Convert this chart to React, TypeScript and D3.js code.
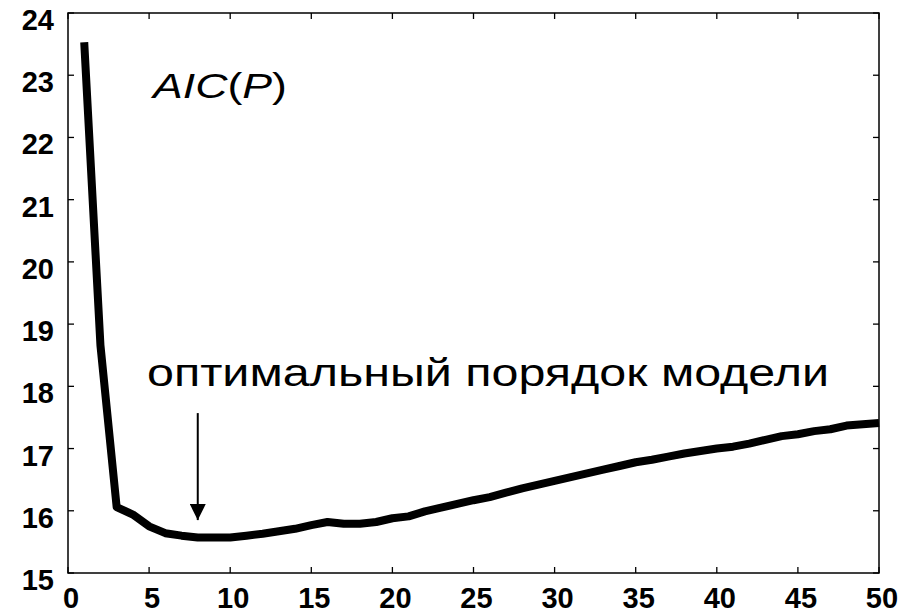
import React, { useEffect, useRef } from 'react';
import * as d3 from 'd3';

// model order P and AIC value
const orders = d3.range(1, 51);
const aicValues = [
  23.53, 18.66, 16.06, 15.94, 15.75, 15.64, 15.6, 15.57, 15.57, 15.57,
  15.6, 15.63, 15.67, 15.71, 15.77, 15.82, 15.79, 15.79, 15.82, 15.88,
  15.91, 15.99, 16.05, 16.11, 16.17, 16.22, 16.29, 16.36, 16.42, 16.48,
  16.54, 16.6, 16.66, 16.72, 16.78, 16.82, 16.87, 16.92, 16.96, 17.0,
  17.03, 17.08, 17.14, 17.2, 17.23, 17.28, 17.31, 17.37, 17.39, 17.41,
];
const xTicks = [0, 5, 10, 15, 20, 25, 30, 35, 40, 45, 50];
const yTicks = [15, 16, 17, 18, 19, 20, 21, 22, 23, 24];
const optimalOrder = 8;
const arrowFrom = 17.57;
const arrowTo = 15.85;

const FONT = '"Liberation Sans", Arial, sans-serif';

const App = () => {
  const svgRef = useRef<SVGSVGElement>(null);

  useEffect(() => {
    const width = 918;
    const height = 614;
    const margin = { top: 13, right: 39, bottom: 41, left: 68 };
    const w = width - margin.left - margin.right;
    const h = height - margin.top - margin.bottom;

    d3.select(svgRef.current).selectAll('*').remove();

    const svg = d3.select(svgRef.current)
      .attr('width', width)
      .attr('height', height);

    const g = svg.append('g')
      .attr('transform', `translate(${margin.left},${margin.top})`);

    const x = d3.scaleLinear().domain([0, 50]).range([0, w]);
    const y = d3.scaleLinear().domain([15, 24]).range([h, 0]);

    // frame
    g.append('rect')
      .attr('width', w)
      .attr('height', h)
      .attr('fill', 'none')
      .attr('stroke', '#000')
      .attr('stroke-width', 1.5);

    // inward ticks on all four sides
    const tickLen = 6;
    const ticks = g.append('g').attr('stroke', '#000').attr('stroke-width', 1.3);
    xTicks.forEach(t => {
      ticks.append('line').attr('x1', x(t)).attr('x2', x(t)).attr('y1', h).attr('y2', h - tickLen);
      ticks.append('line').attr('x1', x(t)).attr('x2', x(t)).attr('y1', 0).attr('y2', tickLen);
    });
    yTicks.forEach(t => {
      ticks.append('line').attr('x1', 0).attr('x2', tickLen).attr('y1', y(t)).attr('y2', y(t));
      ticks.append('line').attr('x1', w).attr('x2', w - tickLen).attr('y1', y(t)).attr('y2', y(t));
    });

    // tick labels
    g.append('g').selectAll('text')
      .data(xTicks)
      .enter()
      .append('text')
      .attr('x', d => x(d) + 3)
      .attr('y', h + 35)
      .attr('text-anchor', 'middle')
      .attr('font-family', FONT)
      .attr('font-weight', 'bold')
      .attr('font-size', 29)
      .text(d => d);

    g.append('g').selectAll('text')
      .data(yTicks)
      .enter()
      .append('text')
      .attr('x', -14)
      .attr('y', d => y(d) + 17)
      .attr('text-anchor', 'end')
      .attr('font-family', FONT)
      .attr('font-weight', 'bold')
      .attr('font-size', 29)
      .text(d => d);

    // AIC curve
    const line = d3.line<number>()
      .x((d, i) => x(orders[i]))
      .y(d => y(d));

    g.append('path')
      .datum(aicValues)
      .attr('d', line)
      .attr('fill', 'none')
      .attr('stroke', '#000')
      .attr('stroke-width', 8)
      .attr('stroke-linejoin', 'round');

    // arrow to the optimum
    svg.append('defs').append('marker')
      .attr('id', 'head')
      .attr('viewBox', '0 0 16 16')
      .attr('refX', 16)
      .attr('refY', 8)
      .attr('markerWidth', 16)
      .attr('markerHeight', 16)
      .attr('markerUnits', 'userSpaceOnUse')
      .attr('orient', 'auto')
      .append('path')
      .attr('d', 'M0,0 L16,8 L0,16 Z')
      .attr('fill', '#000');

    g.append('line')
      .attr('x1', x(optimalOrder))
      .attr('x2', x(optimalOrder))
      .attr('y1', y(arrowFrom))
      .attr('y2', y(arrowTo))
      .attr('stroke', '#000')
      .attr('stroke-width', 2)
      .attr('marker-end', 'url(#head)');

    // labels
    const aic = svg.append('text')
      .attr('x', 153)
      .attr('y', 98)
      .attr('font-family', FONT)
      .attr('font-size', 35)
      .attr('textLength', 134)
      .attr('lengthAdjust', 'spacingAndGlyphs');
    aic.append('tspan').attr('font-style', 'italic').text('AIC');
    aic.append('tspan').text('(');
    aic.append('tspan').attr('font-style', 'italic').text('P');
    aic.append('tspan').text(')');

    svg.append('text')
      .attr('x', 147)
      .attr('y', 386)
      .attr('font-family', FONT)
      .attr('font-size', 38)
      .attr('textLength', 682)
      .attr('lengthAdjust', 'spacingAndGlyphs')
      .text('оптимальный порядок модели');
  }, []);

  return (
    <svg
      ref={svgRef}
      style={{ position: 'absolute', left: 0, top: 0, display: 'block', background: '#fff' }}
    />
  );
};

export default App;
